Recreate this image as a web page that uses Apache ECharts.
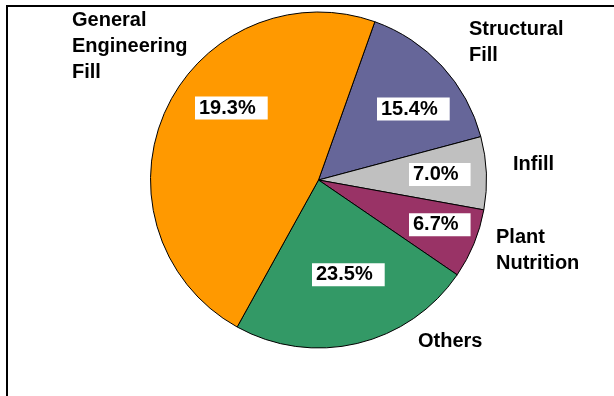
<!DOCTYPE html>
<html>
<head>
<meta charset="utf-8">
<script src="https://cdn.jsdelivr.net/npm/echarts@6/dist/echarts.min.js"></script>
<style>
html,body{margin:0;padding:0;background:#fff;}
#main{width:614px;height:396px;}
</style>
</head>
<body>
<div id="main"></div>
<script>
// Data (clockwise from the Structural Fill slice)
var categories = ['Structural\nFill', 'Infill', 'Plant\nNutrition', 'Others', 'General\nEngineering\nFill'];
var sliceValues = [15.4, 7.0, 6.7, 23.5, 47.4];
var valueLabels = ['15.4%', '7.0%', '6.7%', '23.5%', '19.3%'];
var colors = ['#666699', '#C0C0C0', '#993366', '#339966', '#FF9900'];

// label placement (layout only)
var namePos = [[469, 16], [513, 151], [496, 224], [418, 328], [72, 7]];
var valuePos = [[377, 109], [409, 174.5], [409, 224.7], [312, 274.7], [195, 108]];

var font = '"Liberation Sans", Arial, sans-serif';
var data = categories.map(function (c, i) {
  return { name: c, value: sliceValues[i], itemStyle: { color: colors[i] } };
});
var data2 = categories.map(function (c, i) {
  return { name: c, value: sliceValues[i] };
});

var chart = echarts.init(document.getElementById('main'), null, { renderer: 'canvas' });
chart.setOption({
  animation: false,
  backgroundColor: '#ffffff',
  graphic: [
    { type: 'line', shape: { x1: 7, y1: 5, x2: 7, y2: 396 }, style: { stroke: '#000', lineWidth: 2 } },
    { type: 'line', shape: { x1: 6, y1: 6, x2: 614, y2: 6 }, style: { stroke: '#000', lineWidth: 2 } }
  ],
  series: [
    {
      type: 'pie',
      center: [318.5, 180],
      radius: [0, 168],
      startAngle: 70.4,
      clockwise: true,
      avoidLabelOverlap: false,
      silent: true,
      itemStyle: { borderColor: '#000', borderWidth: 1 },
      label: {
        show: true,
        position: 'outside',
        formatter: '{b}',
        color: '#000',
        fontFamily: font,
        fontWeight: 'bold',
        fontSize: 20,
        lineHeight: 26,
        align: 'left'
      },
      labelLine: { show: false },
      labelLayout: function (p) {
        var q = namePos[p.dataIndex];
        return { x: q[0], y: q[1], align: 'left', verticalAlign: 'top' };
      },
      data: data
    },
    {
      type: 'pie',
      center: [318.5, 180],
      radius: [0, 168],
      startAngle: 70.4,
      clockwise: true,
      avoidLabelOverlap: false,
      silent: true,
      itemStyle: { color: 'rgba(0,0,0,0)', borderWidth: 0 },
      label: {
        show: true,
        position: 'inside',
        formatter: function (p) { return valueLabels[p.dataIndex]; },
        color: '#000',
        fontFamily: font,
        fontWeight: 'bold',
        fontSize: 20,
        backgroundColor: '#fff',
        padding: [2, 12, 1, 4]
      },
      labelLine: { show: false },
      labelLayout: function (p) {
        var q = valuePos[p.dataIndex];
        return { x: q[0], y: q[1], align: 'left', verticalAlign: 'middle' };
      },
      data: data2
    }
  ]
});
</script>
</body>
</html>
